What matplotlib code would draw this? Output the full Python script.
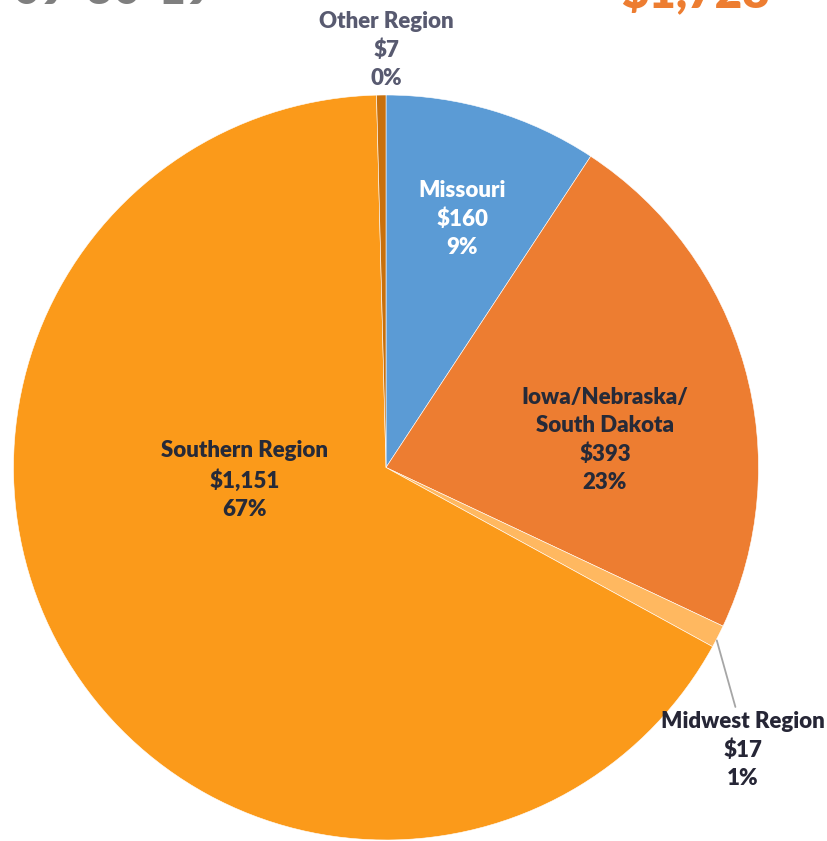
import matplotlib.pyplot as plt

# data
regions = ['Missouri', 'Iowa/Nebraska/\nSouth Dakota', 'Midwest Region', 'Southern Region', 'Other Region']
amounts = [160, 393, 17, 1151, 7]
colors = ['#5B9BD5', '#ED7D31', '#FFB860', '#FB9A1A', '#C8700C']
date_label = '09-30-19'

total = sum(amounts)
total_label = '${:,}'.format(total)

plt.rcParams['font.family'] = ['Lato', 'DejaVu Sans']
plt.rcParams['font.weight'] = 'bold'

W, H = 827, 841
fig = plt.figure(figsize=(W / 100, H / 100), dpi=100)

# pie centre (386, 467.5) px, radius 372.5 px
cx, cy, r = 386, 467.5, 372.5
ax = fig.add_axes([(cx - r) / W, (H - cy - r) / H, 2 * r / W, 2 * r / H])

wedges, _ = ax.pie(amounts, colors=colors, startangle=90, counterclock=False,
                   radius=1, wedgeprops=dict(edgecolor='white', linewidth=0.4))
ax.set_xlim(-1, 1)
ax.set_ylim(-1, 1)
ax.set_aspect('equal')
ax.axis('off')

# label text: name, amount, percent
labels = []
for name, v in zip(regions, amounts):
    labels.append('{}\n${:,}\n{:.0f}%'.format(name, v, v / total * 100))

# label anchor positions (axes data units) and colours
label_pos = [(0.205, 0.668), (0.588, 0.074), (0.957, -0.758), (-0.379, -0.034), (0.0, 1.12)]
label_col = ['white', '#262A38', '#262636', '#262A38', '#585A70']

for lab, (x, y), c in zip(labels, label_pos, label_col):
    ax.text(x, y, lab, ha='center', va='center', color=c, fontsize=16,
            fontweight='heavy', linespacing=1.42, clip_on=False)

# leader line for the small Midwest slice
ax.annotate('', xy=(0.886, -0.457), xytext=(0.94, -0.65),
            arrowprops=dict(arrowstyle='-', color='#A6A6A6', lw=1.3),
            annotation_clip=False)

# headline texts cut off at the top edge
fig.text(13 / W, 1 - 4 / H, date_label, ha='left', va='baseline',
         fontsize=34, fontweight='heavy', color='#7F7F7F')
fig.text(770 / W, 1 - 8 / H, total_label, ha='right', va='baseline',
         fontsize=34, fontweight='heavy', color='#ED7D31')

fig.savefig('out.png', dpi=100, facecolor='white')
